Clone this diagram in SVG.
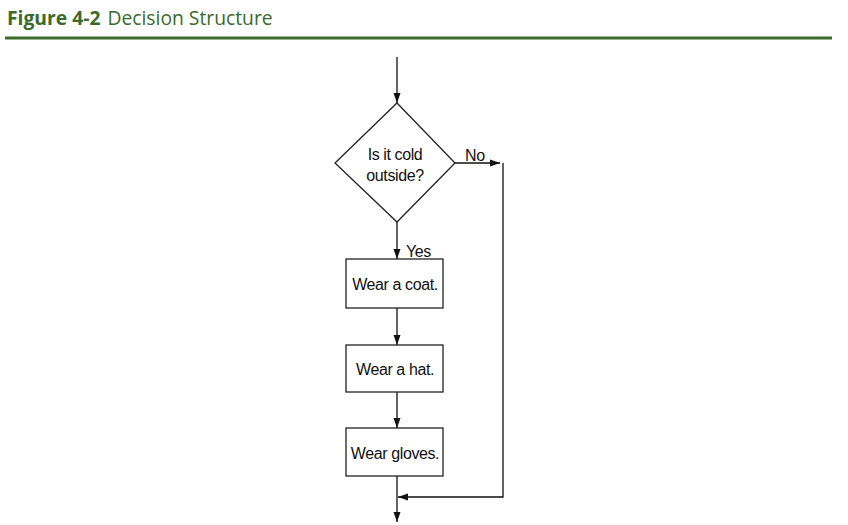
<svg xmlns="http://www.w3.org/2000/svg" width="848" height="525" viewBox="0 0 848 525">
<defs>
<marker id="ah" viewBox="0 0 10 10" refX="10" refY="5" markerWidth="10" markerHeight="10" markerUnits="userSpaceOnUse" orient="auto">
<path d="M0,1.5 L10,5 L0,8.5 z" fill="#111"/>
</marker>
<style>
.s{fill:#fff;stroke:#222;stroke-width:1.3}
.t{font-family:"Liberation Sans",Arial,sans-serif;font-size:16px;fill:#111;text-anchor:middle;letter-spacing:-0.4px}
.l{font-family:"Liberation Sans",Arial,sans-serif;font-size:16px;fill:#111;letter-spacing:-0.4px}
.c{fill:none;stroke:#111;stroke-width:1.3}
</style>
</defs>
<rect width="848" height="525" fill="#fff"/>
<text x="7" y="25" font-family="'Open Sans','Noto Sans',sans-serif" font-size="19.3" fill="#3b6a2b"><tspan font-weight="bold">Figure 4-2</tspan><tspan dx="7">Decision Structure</tspan></text>
<rect x="5" y="36.5" width="827" height="3" fill="#3b6a2b"/>
<g id="connectors">
<line class="c" x1="397" y1="57" x2="397" y2="103" marker-end="url(#ah)"/>
<line class="c" x1="397" y1="222" x2="397" y2="259" marker-end="url(#ah)"/>
<line class="c" x1="397" y1="308" x2="397" y2="345" marker-end="url(#ah)"/>
<line class="c" x1="397" y1="392" x2="397" y2="428" marker-end="url(#ah)"/>
<line class="c" x1="397" y1="476" x2="397" y2="522" marker-end="url(#ah)"/>
<line class="c" x1="455" y1="163" x2="500" y2="163" marker-end="url(#ah)"/>
<polyline class="c" points="503,163 503,497 398,497" marker-end="url(#ah)"/>
<text class="l" x="465" y="161">No</text>
<text class="l" x="406" y="257">Yes</text>
</g>
<g id="decision">
<polygon class="s" points="397,103 455,163 397,222 335,163"/>
<text class="t" x="395" y="160">Is it cold</text>
<text class="t" x="395" y="181">outside?</text>
</g>
<g id="coat">
<rect class="s" x="346" y="259" width="97" height="49"/>
<text class="t" x="395" y="290">Wear a coat.</text>
</g>
<g id="hat">
<rect class="s" x="346" y="345" width="97" height="47"/>
<text class="t" x="395" y="375">Wear a hat.</text>
</g>
<g id="gloves">
<rect class="s" x="346" y="428" width="97" height="48"/>
<text class="t" x="395" y="459">Wear gloves.</text>
</g>
</svg>
